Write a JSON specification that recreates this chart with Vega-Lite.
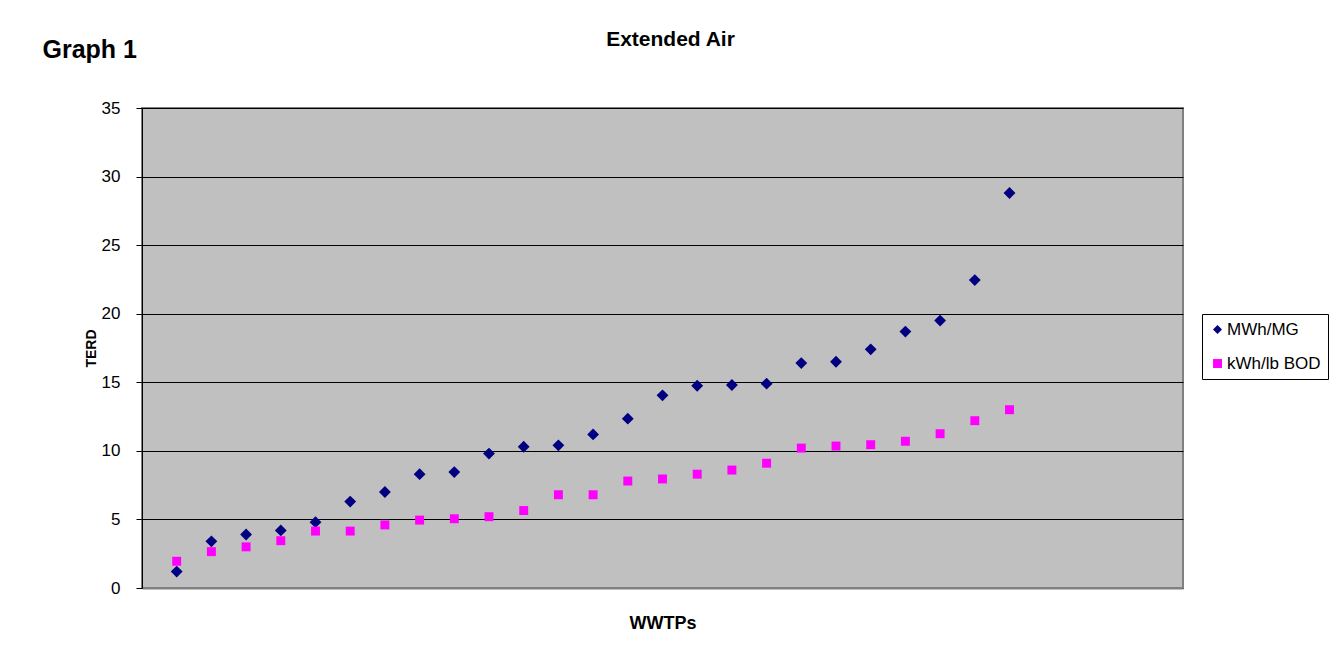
{
  "$schema": "https://vega.github.io/schema/vega-lite/v6.json",
  "width": 1041,
  "height": 480,
  "autosize": {"type": "none"},
  "padding": {"left": 142, "top": 108, "right": 157, "bottom": 70},
  "background": "white",
  "title": {
    "text": "Extended Air",
    "font": "Liberation Sans",
    "fontSize": 21,
    "fontWeight": "bold",
    "color": "black",
    "anchor": "middle",
    "baseline": "alphabetic",
    "dx": 8,
    "offset": -30
  },
  "config": {
    "view": {"fill": "#C0C0C0", "stroke": "#808080", "strokeWidth": 2},
    "axis": {"labelFont": "Liberation Sans", "titleFont": "Liberation Sans", "labelColor": "black", "titleColor": "black"}
  },
  "data": {
    "values": [
      {"wwtp": 1, "series": "MWh/MG", "value": 1.2},
      {"wwtp": 2, "series": "MWh/MG", "value": 3.4},
      {"wwtp": 3, "series": "MWh/MG", "value": 3.9},
      {"wwtp": 4, "series": "MWh/MG", "value": 4.2},
      {"wwtp": 5, "series": "MWh/MG", "value": 4.8},
      {"wwtp": 6, "series": "MWh/MG", "value": 6.3},
      {"wwtp": 7, "series": "MWh/MG", "value": 7.0},
      {"wwtp": 8, "series": "MWh/MG", "value": 8.3},
      {"wwtp": 9, "series": "MWh/MG", "value": 8.45},
      {"wwtp": 10, "series": "MWh/MG", "value": 9.8},
      {"wwtp": 11, "series": "MWh/MG", "value": 10.3},
      {"wwtp": 12, "series": "MWh/MG", "value": 10.4},
      {"wwtp": 13, "series": "MWh/MG", "value": 11.2},
      {"wwtp": 14, "series": "MWh/MG", "value": 12.35},
      {"wwtp": 15, "series": "MWh/MG", "value": 14.05},
      {"wwtp": 16, "series": "MWh/MG", "value": 14.75},
      {"wwtp": 17, "series": "MWh/MG", "value": 14.8},
      {"wwtp": 18, "series": "MWh/MG", "value": 14.9},
      {"wwtp": 19, "series": "MWh/MG", "value": 16.4},
      {"wwtp": 20, "series": "MWh/MG", "value": 16.5},
      {"wwtp": 21, "series": "MWh/MG", "value": 17.4},
      {"wwtp": 22, "series": "MWh/MG", "value": 18.7},
      {"wwtp": 23, "series": "MWh/MG", "value": 19.5},
      {"wwtp": 24, "series": "MWh/MG", "value": 22.45},
      {"wwtp": 25, "series": "MWh/MG", "value": 28.8},
      {"wwtp": 1, "series": "kWh/lb BOD", "value": 1.95},
      {"wwtp": 2, "series": "kWh/lb BOD", "value": 2.65},
      {"wwtp": 3, "series": "kWh/lb BOD", "value": 3.0},
      {"wwtp": 4, "series": "kWh/lb BOD", "value": 3.45},
      {"wwtp": 5, "series": "kWh/lb BOD", "value": 4.15},
      {"wwtp": 6, "series": "kWh/lb BOD", "value": 4.15},
      {"wwtp": 7, "series": "kWh/lb BOD", "value": 4.6},
      {"wwtp": 8, "series": "kWh/lb BOD", "value": 4.95},
      {"wwtp": 9, "series": "kWh/lb BOD", "value": 5.05},
      {"wwtp": 10, "series": "kWh/lb BOD", "value": 5.2},
      {"wwtp": 11, "series": "kWh/lb BOD", "value": 5.65},
      {"wwtp": 12, "series": "kWh/lb BOD", "value": 6.8},
      {"wwtp": 13, "series": "kWh/lb BOD", "value": 6.8},
      {"wwtp": 14, "series": "kWh/lb BOD", "value": 7.8},
      {"wwtp": 15, "series": "kWh/lb BOD", "value": 7.95},
      {"wwtp": 16, "series": "kWh/lb BOD", "value": 8.3},
      {"wwtp": 17, "series": "kWh/lb BOD", "value": 8.6},
      {"wwtp": 18, "series": "kWh/lb BOD", "value": 9.1},
      {"wwtp": 19, "series": "kWh/lb BOD", "value": 10.2},
      {"wwtp": 20, "series": "kWh/lb BOD", "value": 10.35},
      {"wwtp": 21, "series": "kWh/lb BOD", "value": 10.45},
      {"wwtp": 22, "series": "kWh/lb BOD", "value": 10.7},
      {"wwtp": 23, "series": "kWh/lb BOD", "value": 11.25},
      {"wwtp": 24, "series": "kWh/lb BOD", "value": 12.2},
      {"wwtp": 25, "series": "kWh/lb BOD", "value": 13.0}
    ]
  },
  "encoding": {
    "y": {
      "field": "value",
      "type": "quantitative",
      "scale": {"domain": [0, 35], "nice": false, "zero": true},
      "axis": {
        "title": "TERD",
        "titleFontSize": 14,
        "titleFontWeight": "bold",
        "titlePadding": 3,
        "values": [0, 5, 10, 15, 20, 25, 30, 35],
        "labelFontSize": 17,
        "labelPadding": 16,
        "tickSize": 6,
        "tickColor": "black",
        "domainColor": "black",
        "grid": true,
        "gridColor": "black",
        "gridOpacity": 1,
        "gridWidth": 1
      }
    },
    "color": {
      "field": "series",
      "type": "nominal",
      "scale": {"domain": ["MWh/MG", "kWh/lb BOD"], "range": ["#000080", "#FF00FF"]},
      "legend": {
        "title": null,
        "orient": "none",
        "legendX": 1060,
        "legendY": 206,
        "strokeColor": "black",
        "fillColor": "white",
        "padding": 7,
        "labelFont": "Liberation Sans",
        "labelFontSize": 17,
        "labelColor": "black",
        "labelOffset": 1,
        "symbolSize": 80,
        "rowPadding": 16,
        "symbolOpacity": 1
      }
    },
    "shape": {
      "field": "series",
      "type": "nominal",
      "scale": {"domain": ["MWh/MG", "kWh/lb BOD"], "range": ["diamond", "square"]}
    }
  },
  "layer": [
    {
      "transform": [{"filter": "datum.series === 'MWh/MG'"}],
      "mark": {"type": "point", "filled": true, "opacity": 1, "size": 140},
      "encoding": {
        "x": {
          "field": "wwtp",
          "type": "quantitative",
          "scale": {"domain": [0, 30], "nice": false},
          "axis": {
            "orient": "bottom",
            "title": "WWTPs",
            "titleFontSize": 18,
            "titleFontWeight": "bold",
            "titlePadding": 26,
            "labels": false,
            "ticks": false,
            "grid": false,
            "domainColor": "#808080",
            "domainWidth": 2
          }
        }
      }
    },
    {
      "transform": [{"filter": "datum.series === 'kWh/lb BOD'"}],
      "mark": {"type": "point", "filled": true, "opacity": 1, "size": 80},
      "encoding": {
        "x": {
          "field": "wwtp",
          "type": "quantitative",
          "scale": {"domain": [0, 30], "nice": false},
          "axis": {
            "orient": "top",
            "title": "Graph 1",
            "titleFontSize": 25,
            "titleFontWeight": "bold",
            "titleX": -100,
            "titleY": -51,
            "titleAlign": "left",
            "titleBaseline": "alphabetic",
            "titleAngle": 0,
            "labels": false,
            "ticks": false,
            "grid": false,
            "domain": false
          }
        }
      }
    }
  ],
  "resolve": {"axis": {"x": "independent"}}
}
